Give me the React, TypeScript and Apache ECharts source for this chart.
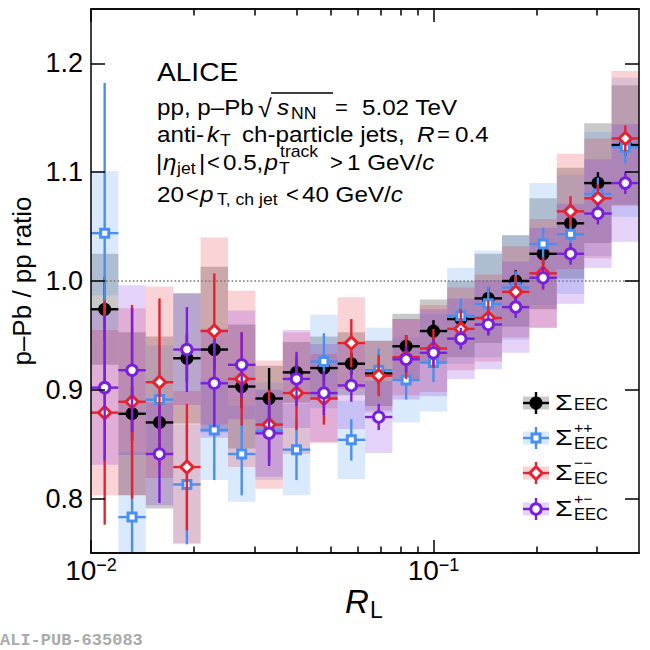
import React, { useEffect, useRef } from "react";
import * as echarts from "echarts";

// R_L bin edges (20 log-uniform bins)
const rlEdges = [
  0.01, 0.01202, 0.01445, 0.01738, 0.02089, 0.02512, 0.0302, 0.03631, 0.04365,
  0.05248, 0.0631, 0.07586, 0.0912, 0.1096, 0.1318, 0.1585, 0.1905, 0.2291,
  0.2754, 0.3311, 0.3981,
];

// p-Pb / pp ratio, inclusive EEC
const eecVal = [0.974, 0.878, 0.87, 0.929, 0.937, 0.903, 0.892, 0.916, 0.92, 0.924, 0.915, 0.94, 0.954, 0.965, 0.984, 1.0, 1.025, 1.053, 1.09, 1.125];
const eecStat = [0.03, 0.025, 0.025, 0.022, 0.02, 0.02, 0.028, 0.012, 0.012, 0.01, 0.01, 0.01, 0.01, 0.01, 0.01, 0.01, 0.01, 0.01, 0.01, 0.01];
const eecSyst = [0.051, 0.075, 0.079, 0.06, 0.076, 0.057, 0.03, 0.028, 0.029, 0.029, 0.03, 0.03, 0.029, 0.035, 0.041, 0.042, 0.051, 0.051, 0.055, 0.055];

// like-sign ++
const ppVal = [1.044, 0.783, 0.891, 0.813, 0.863, 0.841, 0.862, 0.845, 0.926, 0.854, 0.918, 0.909, 0.925, 0.968, 0.979, 0.994, 1.034, 1.043, 1.08, 1.123];
const ppStat = [0.138, 0.06, 0.05, 0.055, 0.046, 0.038, 0.03, 0.028, 0.026, 0.019, 0.02, 0.018, 0.018, 0.016, 0.016, 0.015, 0.015, 0.015, 0.015, 0.015];
const ppSyst = [0.057, 0.06, 0.05, 0.055, 0.046, 0.044, 0.045, 0.042, 0.043, 0.036, 0.039, 0.039, 0.045, 0.044, 0.049, 0.048, 0.056, 0.055, 0.057, 0.064];

// like-sign --
const mmVal = [0.879, 0.889, 0.907, 0.829, 0.954, 0.91, 0.868, 0.897, 0.892, 0.943, 0.913, 0.93, 0.938, 0.956, 0.966, 0.99, 1.007, 1.064, 1.076, 1.131];
const mmStat = [0.103, 0.089, 0.077, 0.058, 0.053, 0.043, 0.032, 0.034, 0.024, 0.022, 0.019, 0.02, 0.018, 0.018, 0.016, 0.015, 0.015, 0.014, 0.013, 0.012];
const mmSyst = [0.076, 0.086, 0.088, 0.07, 0.086, 0.081, 0.059, 0.056, 0.041, 0.042, 0.032, 0.035, 0.04, 0.038, 0.04, 0.042, 0.05, 0.053, 0.055, 0.062];

// unlike-sign +-
const pmVal = [0.902, 0.918, 0.841, 0.937, 0.906, 0.923, 0.86, 0.91, 0.897, 0.904, 0.875, 0.928, 0.934, 0.947, 0.96, 0.976, 1.003, 1.025, 1.062, 1.09];
const pmStat = [0.067, 0.057, 0.045, 0.039, 0.04, 0.03, 0.03, 0.025, 0.02, 0.015, 0.012, 0.012, 0.012, 0.01, 0.01, 0.01, 0.01, 0.01, 0.01, 0.01];
const pmSyst = [0.071, 0.078, 0.047, 0.051, 0.05, 0.05, 0.04, 0.045, 0.045, 0.04, 0.033, 0.037, 0.04, 0.037, 0.041, 0.042, 0.046, 0.046, 0.05, 0.054];

const yTicks = [0.8, 0.9, 1.0, 1.1, 1.2];
const xMajorTicks = [0.01, 0.1];
const xMinorTicks = [0.02, 0.03, 0.04, 0.05, 0.06, 0.07, 0.08, 0.09, 0.2, 0.3];
const unityRatio = 1.0;

const Y_MIN = 0.75;
const Y_MAX = 1.25;
const X_MIN = Math.log10(rlEdges[0]);
const X_MAX = Math.log10(rlEdges[rlEdges.length - 1]);

const FONT = "'Liberation Sans', Arial, Helvetica, sans-serif";
const BODY = 22; // annotation text size
const SUB = 16; // sub/superscript size
const SX = 1.1; // the ROOT font runs a little wider than Liberation Sans

type Marker = "dot" | "square" | "diamond" | "circle";
const samples: {
  sup: string; color: string; box: string; marker: Marker;
  val: number[]; stat: number[]; syst: number[];
}[] = [
  { sup: "", color: "#000000", box: "rgba(0,0,0,0.21)", marker: "dot", val: eecVal, stat: eecStat, syst: eecSyst },
  { sup: "++", color: "#4a8ff0", box: "rgba(74,143,240,0.2)", marker: "square", val: ppVal, stat: ppStat, syst: ppSyst },
  { sup: "−−", color: "#e52230", box: "rgba(229,34,48,0.2)", marker: "diamond", val: mmVal, stat: mmStat, syst: mmSyst },
  { sup: "+−", color: "#7a20dc", box: "rgba(122,32,220,0.2)", marker: "circle", val: pmVal, stat: pmStat, syst: pmSyst },
];

function markerEl(kind: Marker, color: string, cx: number, cy: number): any {
  if (kind === "dot") return { type: "circle", shape: { cx, cy, r: 6.5 }, style: { fill: color } };
  if (kind === "square")
    return { type: "rect", shape: { x: cx - 4, y: cy - 4, width: 8, height: 8 }, style: { fill: "#fff", stroke: color, lineWidth: 3 } };
  if (kind === "diamond")
    return {
      type: "polygon",
      shape: { points: [[cx, cy - 6.2], [cx + 6.2, cy], [cx, cy + 6.2], [cx - 6.2, cy]] },
      style: { fill: "#fff", stroke: color, lineWidth: 3 },
    };
  return { type: "circle", shape: { cx, cy, r: 5.2 }, style: { fill: "#fff", stroke: color, lineWidth: 3 } };
}

const clampY = (v: number) => Math.min(Y_MAX, Math.max(Y_MIN, v));

// text placed by its baseline (central baseline sits ~0.347em above it)
function txt(text: string, x: number, base: number, size: number, italic = false, sx = SX, extra: any = {}): any {
  return {
    type: "text",
    x,
    y: base - 0.347 * size,
    scaleX: sx,
    z: 20,
    silent: true,
    style: {
      text,
      fontSize: size,
      fontFamily: FONT,
      fontStyle: italic ? "italic" : "normal",
      fill: "#000",
      align: "left",
      verticalAlign: "middle",
      ...extra,
    },
  };
}

const italicRich = { i: { fontStyle: "italic", fontSize: BODY, fontFamily: FONT } };

function buildOption() {
  const seriesData = (s: (typeof samples)[number]) =>
    s.val.map((v, i) => [Math.log10(rlEdges[i]), Math.log10(rlEdges[i + 1]), v, s.stat[i], s.syst[i]]);

  const boxSeries = samples.map((s) => ({
    type: "custom",
    z: 2,
    silent: true,
    encode: { x: [0, 1], y: 2 },
    data: seriesData(s),
    renderItem: (_p: any, api: any) => {
      const lo = api.value(0), hi = api.value(1), v = api.value(2), sy = api.value(4);
      const a = api.coord([lo, clampY(v + sy)]);
      const b = api.coord([hi, clampY(v - sy)]);
      return { type: "rect", shape: { x: a[0], y: a[1], width: b[0] - a[0], height: b[1] - a[1] }, style: { fill: s.box } };
    },
  }));

  const refSeries = {
    type: "custom",
    z: 3,
    silent: true,
    encode: { x: [0, 1], y: 2 },
    data: [[X_MIN, X_MAX, unityRatio]],
    renderItem: (_p: any, api: any) => {
      const a = api.coord([api.value(0), api.value(2)]);
      const b = api.coord([api.value(1), api.value(2)]);
      return {
        type: "line",
        shape: { x1: a[0], y1: a[1], x2: b[0], y2: b[1] },
        style: { stroke: "#777", lineWidth: 1.6, lineDash: [1.6, 2.2] },
      };
    },
  };

  const pointSeries = samples.map((s, k) => ({
    type: "custom",
    z: 5 + k,
    silent: true,
    encode: { x: [0, 1], y: 2 },
    data: seriesData(s),
    renderItem: (_p: any, api: any) => {
      const lo = api.value(0), hi = api.value(1), v = api.value(2), st = api.value(3);
      const c = api.coord([(lo + hi) / 2, v]);
      const l = api.coord([lo, v])[0];
      const r = api.coord([hi, v])[0];
      const top = api.coord([lo, clampY(v + st)])[1];
      const bot = api.coord([lo, clampY(v - st)])[1];
      return {
        type: "group",
        children: [
          { type: "line", shape: { x1: c[0], y1: top, x2: c[0], y2: bot }, style: { stroke: s.color, lineWidth: 2.4 } },
          { type: "line", shape: { x1: l, y1: c[1], x2: r, y2: c[1] }, style: { stroke: s.color, lineWidth: 2.4 } },
          markerEl(s.marker, s.color, c[0], c[1]),
        ],
      };
    },
  }));

  const axisLine = { show: true, lineStyle: { color: "#000", width: 1.5 } };
  const xAxisBase = {
    type: "value",
    min: X_MIN,
    max: X_MAX,
    z: 10,
    axisLine,
    splitLine: { show: false },
  };
  const majors = xMajorTicks.map(Math.log10);
  const minors = xMinorTicks.map(Math.log10);

  const legendEls: any[] = [];
  const rowY = [403, 438, 473, 509];
  samples.forEach((s, k) => {
    const yc = rowY[k];
    legendEls.push(
      { type: "rect", shape: { x: 523, y: yc - 6.5, width: 26, height: 13 }, style: { fill: s.box }, z: 20 },
      { type: "line", shape: { x1: 523, y1: yc, x2: 549, y2: yc }, style: { stroke: s.color, lineWidth: 2.4 }, z: 21 },
      { type: "line", shape: { x1: 536, y1: yc - 11, x2: 536, y2: yc + 11 }, style: { stroke: s.color, lineWidth: 2.4 }, z: 21 },
      { ...markerEl(s.marker, s.color, 536, yc), z: 22 },
      txt("Σ", 555, yc + 7, 22, false, 1.3),
      txt("EEC", 574, yc + (s.sup ? 11 : 6.5), 16, false, 1.03),
    );
    if (s.sup) legendEls.push(txt(s.sup, 574, yc - 10.5 + 0.347 * 15, 15, false, 1.05));
  });

  const annotation: any[] = [
    txt("ALICE", 157, 80.7, 26.5, false, 1.06),
    // line 2
    txt("pp, p–Pb", 157, 115, BODY),
    txt("√", 258, 117, 25, false, 1),
    { type: "line", shape: { x1: 271, y1: 93, x2: 333, y2: 93 }, style: { stroke: "#000", lineWidth: 1.3 }, z: 20 },
    txt("s", 277, 115, BODY, true),
    txt("NN", 291, 119.5, SUB),
    txt("=", 335, 115, BODY, false, 1),
    txt("5.02 TeV", 362, 115, BODY),
    // line 3
    txt("anti-", 157, 141.7, BODY),
    txt("k", 207, 141.7, BODY, true),
    txt("T", 220, 146, SUB),
    txt("ch-particle jets,", 242, 141.7, BODY),
    txt("R", 417, 141.7, BODY, true),
    txt("=", 437, 141.7, BODY, false, 1),
    txt("0.4", 455, 141.7, BODY),
    // line 4
    txt("|", 156, 170, BODY),
    txt("η", 163, 170, BODY, true),
    txt("jet", 177, 174.5, SUB),
    txt("|", 199, 170, BODY),
    txt("<", 207, 170, BODY, false, 1),
    txt("0.5,", 223, 170, BODY),
    txt("p", 264.5, 170, BODY, true),
    txt("T", 279, 174.5, SUB),
    txt("track", 280, 157, SUB),
    txt(">", 330, 170, BODY, false, 1),
    txt("1 GeV/{i|c}", 347, 170, BODY, false, SX, { rich: italicRich }),
    // line 5
    txt("20", 157, 201.7, BODY),
    txt("<", 186, 201.7, BODY, false, 1),
    txt("p", 200, 201.7, BODY, true),
    txt("T, ch jet", 217, 205.5, SUB),
    txt("<", 286, 201.7, BODY, false, 1),
    txt("40 GeV/{i|c}", 302, 201.7, BODY, false, SX, { rich: italicRich }),
    // x-axis title
    txt("R", 345, 613, 33, true, 1),
    txt("L", 370, 618, 23, false, 1),
    // watermark
    {
      type: "text",
      x: 0,
      y: 640,
      z: 20,
      style: {
        text: "ALI-PUB-635083",
        fontSize: 17,
        fontWeight: "bold",
        fontFamily: "'Liberation Mono', 'DejaVu Sans Mono', monospace",
        fill: "#aaaaaa",
        align: "left",
        verticalAlign: "middle",
      },
    },
  ];

  return {
    animation: false,
    backgroundColor: "#fff",
    grid: { left: 91, right: 11, top: 9, bottom: 97, containLabel: false, outerBoundsMode: "none" },
    xAxis: [
      {
        ...xAxisBase,
        position: "bottom",
        axisTick: { show: true, inside: true, length: 13, customValues: majors, lineStyle: { color: "#000", width: 1.5 } },
        axisLabel: {
          show: true,
          customValues: majors,
          margin: 3,
          color: "#000",
          fontFamily: FONT,
          formatter: (v: number) => `{b|10}{e|−${Math.round(-v)}}`,
          rich: {
            b: { fontSize: 28, fontFamily: FONT, color: "#000", lineHeight: 28 },
            e: { fontSize: 18, fontFamily: FONT, color: "#000", lineHeight: 14, verticalAlign: "top" },
          },
        },
      },
      {
        ...xAxisBase,
        position: "bottom",
        axisTick: { show: true, inside: true, length: 6.5, customValues: minors, lineStyle: { color: "#000", width: 1.5 } },
        axisLabel: { show: false },
      },
      {
        ...xAxisBase,
        position: "top",
        axisTick: { show: true, inside: true, length: 13, customValues: majors, lineStyle: { color: "#000", width: 1.5 } },
        axisLabel: { show: false },
      },
      {
        ...xAxisBase,
        position: "top",
        axisTick: { show: true, inside: true, length: 6.5, customValues: minors, lineStyle: { color: "#000", width: 1.5 } },
        axisLabel: { show: false },
      },
    ],
    yAxis: [
      {
        type: "value",
        min: Y_MIN,
        max: Y_MAX,
        position: "left",
        z: 10,
        axisLine,
        splitLine: { show: false },
        axisTick: { show: true, inside: true, length: 14, customValues: yTicks, lineStyle: { color: "#000", width: 1.5 } },
        axisLabel: {
          show: true,
          customValues: yTicks,
          margin: 8,
          fontSize: 27,
          fontFamily: FONT,
          color: "#000",
          formatter: (v: number) => v.toFixed(1),
        },
        name: "p–Pb / pp ratio",
        nameLocation: "middle",
        nameGap: 53,
        nameRotate: 90,
        nameTextStyle: { fontSize: 26, fontFamily: FONT, color: "#000" },
      },
      {
        type: "value",
        min: Y_MIN,
        max: Y_MAX,
        position: "right",
        z: 10,
        axisLine,
        splitLine: { show: false },
        axisTick: { show: true, inside: true, length: 14, customValues: yTicks, lineStyle: { color: "#000", width: 1.5 } },
        axisLabel: { show: false },
      },
    ],
    series: [...boxSeries, refSeries, ...pointSeries],
    graphic: { elements: [...annotation, ...legendEls] },
  };
}

export default function App() {
  const ref = useRef<HTMLDivElement>(null);
  useEffect(() => {
    const chart = echarts.init(ref.current, null, { renderer: "svg" });
    chart.setOption(buildOption() as any);
    return () => {
      chart.dispose();
    };
  }, []);
  return (
    <div
      ref={ref}
      style={{ position: "absolute", left: 0, top: 0, width: 650, height: 650, background: "#fff" }}
    />
  );
}
